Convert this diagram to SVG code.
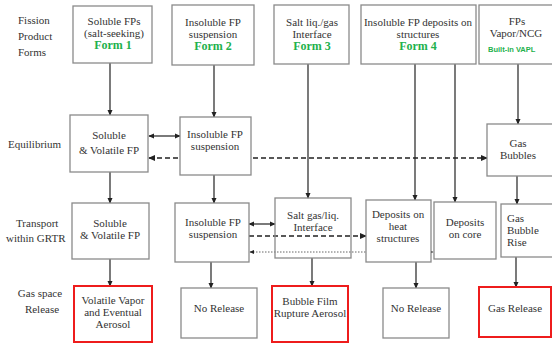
<svg xmlns="http://www.w3.org/2000/svg" width="552" height="345" viewBox="0 0 552 345">
<style>
.bx{fill:#fff;stroke:#8a8a8a;stroke-width:1.3}
.rd{fill:#fff;stroke:#ee1c1c;stroke-width:2}
.t{font-family:"Liberation Serif",Tinos,"Times New Roman","DejaVu Serif",serif;font-size:11px;fill:#333;text-anchor:middle}
.l{font-family:"Liberation Serif",Tinos,"Times New Roman","DejaVu Serif",serif;font-size:11px;fill:#333}
.g{font-family:"Liberation Serif",Tinos,"Times New Roman","DejaVu Serif",serif;font-size:12px;font-weight:bold;fill:#22b14c;text-anchor:middle}
.v{font-family:"Liberation Sans",Arial,sans-serif;font-size:7.5px;font-weight:bold;fill:#22b14c}
.c{stroke:#222;stroke-width:1.2;fill:none}
.d{stroke:#222;stroke-width:1.4;fill:none;stroke-dasharray:5,3}
.o{stroke:#666;stroke-width:1;fill:none;stroke-dasharray:1.5,1.5}
</style>
<defs>
<marker id="a" viewBox="0 0 8 8" refX="7" refY="4" markerWidth="5" markerHeight="5" orient="auto-start-reverse"><path d="M0,0.5 L8,4 L0,7.5 z" fill="#222"/></marker>
</defs>
<rect width="552" height="345" fill="#fff"/>
<g id="labels">
<text class="l" x="18" y="24">Fission</text>
<text class="l" x="18" y="40">Product</text>
<text class="l" x="18" y="56">Forms</text>
<text class="l" x="8" y="148">Equilibrium</text>
<text class="l" x="16" y="227">Transport</text>
<text class="l" x="6" y="242">within GRTR</text>
<text class="t" x="40" y="297">Gas space</text>
<text class="t" x="42" y="313">Release</text>
</g>
<g id="connectors">
<line class="c" x1="110" y1="63" x2="110" y2="115" marker-end="url(#a)"/>
<line class="c" x1="214" y1="65" x2="214" y2="117" marker-end="url(#a)"/>
<line class="c" x1="308" y1="64" x2="308" y2="198" marker-end="url(#a)"/>
<line class="c" x1="415" y1="64" x2="415" y2="200" marker-end="url(#a)"/>
<line class="c" x1="455" y1="64" x2="455" y2="202" marker-end="url(#a)"/>
<line class="c" x1="518" y1="64" x2="518" y2="124" marker-end="url(#a)"/>
<line class="c" x1="149" y1="136" x2="180" y2="136" marker-start="url(#a)" marker-end="url(#a)"/>
<line class="d" x1="149" y1="158" x2="487" y2="158" marker-start="url(#a)" marker-end="url(#a)"/>
<line class="c" x1="110" y1="172" x2="110" y2="203" marker-end="url(#a)"/>
<line class="c" x1="214" y1="175" x2="214" y2="203" marker-end="url(#a)"/>
<line class="c" x1="517" y1="176" x2="517" y2="204" marker-end="url(#a)"/>
<line class="c" x1="249" y1="224" x2="275" y2="224" marker-start="url(#a)" marker-end="url(#a)"/>
<line class="d" x1="249" y1="236" x2="366" y2="236" marker-end="url(#a)"/>
<line class="o" x1="250" y1="252" x2="433" y2="252" marker-start="url(#a)" marker-end="url(#a)"/>
<line class="c" x1="110" y1="259" x2="110" y2="286" marker-end="url(#a)"/>
<line class="c" x1="211" y1="262" x2="211" y2="288" marker-end="url(#a)"/>
<line class="c" x1="312" y1="258" x2="312" y2="286" marker-end="url(#a)"/>
<line class="c" x1="416" y1="262" x2="416" y2="288" marker-end="url(#a)"/>
<line class="c" x1="516" y1="257" x2="516" y2="287" marker-end="url(#a)"/>
</g>
<g id="form1"><rect class="bx" x="73" y="6" width="79" height="57"/>
<text class="t" x="114" y="25">Soluble FPs</text><text class="t" x="114" y="37">(salt-seeking)</text><text class="g" x="113" y="49">Form 1</text></g>
<g id="form2"><rect class="bx" x="172" y="5" width="82" height="60"/>
<text class="t" x="213" y="26">Insoluble FP</text><text class="t" x="213" y="38">suspension</text><text class="g" x="213" y="50">Form 2</text></g>
<g id="form3"><rect class="bx" x="274" y="5" width="75" height="59"/>
<text class="t" x="312" y="26">Salt liq./gas</text><text class="t" x="312" y="38">Interface</text><text class="g" x="312" y="50">Form 3</text></g>
<g id="form4"><rect class="bx" x="361" y="5" width="115" height="59"/>
<text class="t" x="418" y="26">Insoluble FP deposits on</text><text class="t" x="418" y="38">structures</text><text class="g" x="418" y="50">Form 4</text></g>
<g id="form5"><rect class="bx" x="479" y="5" width="76" height="59"/>
<text class="t" x="517" y="25">FPs</text><text class="t" x="516" y="37">Vapor/NCG</text><text class="v" x="488" y="52">Built-in VAPL</text></g>
<g id="eq-soluble"><rect class="bx" x="70" y="115" width="78" height="57"/>
<text class="t" x="109" y="139">Soluble</text><text class="t" x="109" y="154">&amp; Volatile FP</text></g>
<g id="eq-insoluble"><rect class="bx" x="180" y="117" width="71" height="58"/>
<text class="t" x="215" y="138">Insoluble FP</text><text class="t" x="215" y="150">suspension</text></g>
<g id="eq-gas"><rect class="bx" x="487" y="124" width="68" height="52"/>
<text class="t" x="518" y="147">Gas</text><text class="t" x="518" y="159">Bubbles</text></g>
<g id="tr-soluble"><rect class="bx" x="72" y="203" width="77" height="56"/>
<text class="t" x="110" y="227">Soluble</text><text class="t" x="110" y="239">&amp; Volatile FP</text></g>
<g id="tr-insoluble"><rect class="bx" x="175" y="203" width="74" height="59"/>
<text class="t" x="213" y="226">Insoluble FP</text><text class="t" x="213" y="238">suspension</text></g>
<g id="tr-salt"><rect class="bx" x="275" y="198" width="76" height="60" fill-opacity="0"/>
<text class="t" x="313" y="219">Salt gas/liq.</text><text class="t" x="313" y="231">Interface</text></g>
<g id="tr-heat"><rect class="bx" x="366" y="200" width="65" height="62"/>
<text class="t" x="398" y="218">Deposits on</text><text class="t" x="398" y="230">heat</text><text class="t" x="398" y="242">structures</text></g>
<g id="tr-core"><rect class="bx" x="434" y="202" width="62" height="57"/>
<text class="t" x="465" y="226">Deposits</text><text class="t" x="465" y="238">on core</text></g>
<g id="tr-rise"><rect class="bx" x="501" y="204" width="54" height="53"/>
<text class="l" x="507" y="222">Gas</text><text class="l" x="507" y="234">Bubble</text><text class="l" x="507" y="246">Rise</text></g>
<g id="rel-volatile"><rect class="rd" x="74" y="286" width="78" height="56"/>
<text class="t" x="113" y="304">Volatile Vapor</text><text class="t" x="113" y="316">and Eventual</text><text class="t" x="113" y="328">Aerosol</text></g>
<g id="rel-none1"><rect class="bx" x="181" y="288" width="76" height="50"/>
<text class="t" x="219" y="312">No Release</text></g>
<g id="rel-bubble"><rect class="rd" x="272" y="286" width="76" height="56"/>
<text class="t" x="310" y="305">Bubble Film</text><text class="t" x="310" y="317">Rupture Aerosol</text></g>
<g id="rel-none2"><rect class="bx" x="383" y="288" width="66" height="50"/>
<text class="t" x="416" y="312">No Release</text></g>
<g id="rel-gas"><rect class="rd" x="479" y="287" width="72" height="50"/>
<text class="t" x="515" y="312">Gas Release</text></g>
</svg>
